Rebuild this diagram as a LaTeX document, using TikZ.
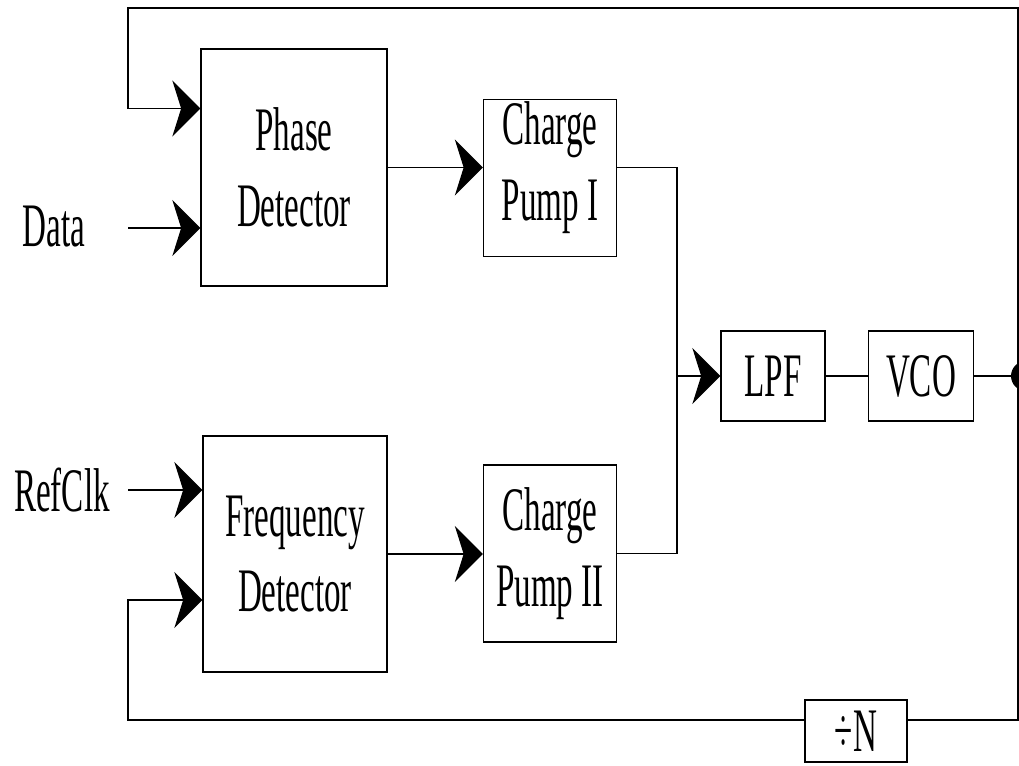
\documentclass[tikz,border=0pt]{standalone}
\usepackage{fontspec}
\setmainfont[FakeStretch=0.535]{Liberation Serif}
\usetikzlibrary{arrows.meta,positioning,calc}

\begin{document}
\begin{tikzpicture}[x=0.025cm,y=-0.025cm,line width=0.9pt,
  every node/.style={font=\fontsize{44}{54}\selectfont},
  blk/.style={draw,align=center,inner sep=0pt},
  arr/.style={-{Stealth[length=0.7cm,width=1.4cm,inset=0.22cm]}}]
\useasboundingbox (0,0) rectangle (1019,765);

\node[blk,minimum width=4.65cm,minimum height=5.925cm] (pd) at (294,167.5) {Phase\\Detector};
\node[blk,minimum width=3.325cm,minimum height=3.925cm] (cp1) at (550,178) {};
\node[align=center] (cp1txt) at (550,168) {Charge\\Pump I};
\node[blk,minimum width=4.6cm,minimum height=5.9cm] (fd) at (295,554) {Frequency\\Detector};
\node[blk,minimum width=3.325cm,minimum height=4.425cm] (cp2) at (550,553.5) {Charge\\Pump II};
\node[blk,minimum width=2.6cm,minimum height=2.25cm] (lpf) at (773,376) {LPF};
\node[blk,minimum width=2.625cm,minimum height=2.25cm] (vco) at (921,376) {VCO};
\node[blk,minimum width=2.55cm,minimum height=1.55cm] (divn) at (856,731) {÷N};

\node (data) at (54,227) {Data};
\node (refclk) at (62,490) {RefClk};

\coordinate (tap) at (1018,376);
\coordinate (sum) at (677,376);
\coordinate (tl) at (128,8);
\coordinate (bl) at (128,720);
\coordinate (fb) at (128,600);
\coordinate (din) at (128,228);
\coordinate (rin) at (128,490);

\draw[arr] (din) -- (din -| pd.west);
\draw[arr] (rin) -- (rin -| fd.west);
\draw[arr] (pd.east) -- (pd.east -| cp1.west);
\draw[arr] (fd.east) -- (fd.east -| cp2.west);
\draw (pd.east -| cp1.east) -| (sum);
\draw (cp2.east) -| (sum);
\draw[arr] (sum) -- (lpf.west);
\draw (lpf) -- (vco);
\draw (vco) -- (tap);
\fill ([xshift=0.2cm]tap) circle (0.375cm);

\draw[arr] (tap) |- (tl) |- ([yshift=1.475cm]pd.west);
\draw (tap) |- (divn.east |- bl);
\draw[arr] (divn.west |- bl) -- (bl) -- (fb) -- (fb -| fd.west);
\end{tikzpicture}
\end{document}
